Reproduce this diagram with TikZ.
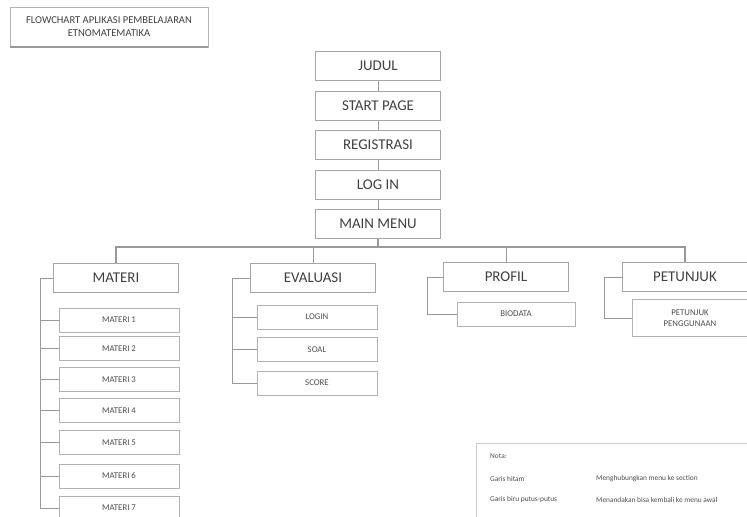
\documentclass[tikz,border=0pt]{standalone}
\usepackage{fontspec}
\setmainfont{Carlito}
\usepackage{tikz}
\begin{document}
\begin{tikzpicture}[x=0.02cm, y=-0.02cm,
  box/.style={draw=gray!70, minimum width=2.5cm, minimum height=0.58cm, font=\fontsize{8.5}{9}\selectfont, text=black!75},
  subbox/.style={draw=gray!60, minimum width=2.4cm, minimum height=0.48cm, font=\fontsize{5}{6}\selectfont, text=black!70},
  link/.style={draw=gray!80, line width=0.5pt},
  note/.style={anchor=west, font=\fontsize{4.2}{5}\selectfont, text=black!70}]
  \useasboundingbox (0,0) rectangle (747,517);
  \clip (0,0) rectangle (747,517);

  % title
  \node[draw=gray!60, minimum width=3.96cm, minimum height=0.8cm, align=center,
        font=\fontsize{6}{7.5}\selectfont, text=black!75] (title) at (109,27)
        {FLOWCHART APLIKASI PEMBELAJARAN\\ETNOMATEMATIKA};
  \draw[gray!80, line width=1pt] (title.south west) -- (title.south east);

  % main column
  \node[box] (judul) at (378,66) {JUDUL};
  \node[box] (start) at (378,106) {START PAGE};
  \node[box] (reg) at (378,145) {REGISTRASI};
  \node[box] (login) at (378,185) {LOG IN};
  \node[box] (menu) at (378,224) {MAIN MENU};

  \draw[link] (judul) -- (start);
  \draw[link] (start) -- (reg);
  \draw[link] (reg) -- (login);
  \draw[link] (login) -- (menu);

  % menu level
  \node[box] (materi) at (116,278) {MATERI};
  \node[box] (eval) at (313,278) {EVALUASI};
  \node[box] (profil) at (506,277) {PROFIL};
  \node[box] (petunjuk) at (685,277) {PETUNJUK};

  \coordinate (bus) at (378,247);
  \draw[link, line width=0.8pt] (menu) -- (bus);
  \draw[link, line width=0.8pt] (materi.north) |- (bus) -| (petunjuk.north);
  \draw[link] (eval.north) -- (eval.north |- bus);
  \draw[link] (profil.north) -- (profil.north |- bus);

  % materi
  \foreach \i/\y in {1/320, 2/348.5, 3/379.5, 4/410.5, 5/442.5, 6/476, 7/508}
    \node[subbox] (m\i) at (119,\y) {MATERI \i};
  \coordinate (mspine) at (40,278);
  \draw[link] (materi.west) -- (mspine) |- (m7.west);
  \foreach \i in {1,...,6}
    \draw[link] (m\i.west) -- (m\i.west -| mspine);

  % evaluasi
  \node[subbox] (elogin) at (317,317) {LOGIN};
  \node[subbox] (esoal) at (317,349.5) {SOAL};
  \node[subbox] (escore) at (317,383) {SCORE};
  \coordinate (espine) at (232,278);
  \draw[link] (eval.west) -- (espine) |- (escore.west);
  \draw[link] (elogin.west) -- (elogin.west -| espine);
  \draw[link] (esoal.west) -- (esoal.west -| espine);

  % profil
  \node[subbox, minimum width=2.36cm] (bio) at (516,314) {BIODATA};
  \coordinate (pspine) at (427,277);
  \draw[link] (profil.west) -- (pspine) |- (bio.west);

  % petunjuk
  \node[subbox, minimum width=2.3cm, minimum height=0.74cm, align=center] (guide) at (690,318)
    {PETUNJUK\\PENGGUNAAN};
  \coordinate (gspine) at (604,277);
  \draw[link] (petunjuk.west) -- (gspine) |- (guide.west);

  % legend
  \node[draw=gray!40, anchor=north west, minimum width=5.5cm, minimum height=1.5cm] (legend) at (476,443) {};
  \node[note] (nota) at (484,456) {Nota:};
  \node[note] (hitam) at (484,479) {Garis hitam};
  \node[note] (hitamket) at (590,479) {Menghubungkan menu ke section};
  \node[note] (biru) at (484,500) {Garis biru putus-putus};
  \node[note] (biruket) at (590,500) {Menandakan bisa kembali ke menu awal};
\end{tikzpicture}
\end{document}
